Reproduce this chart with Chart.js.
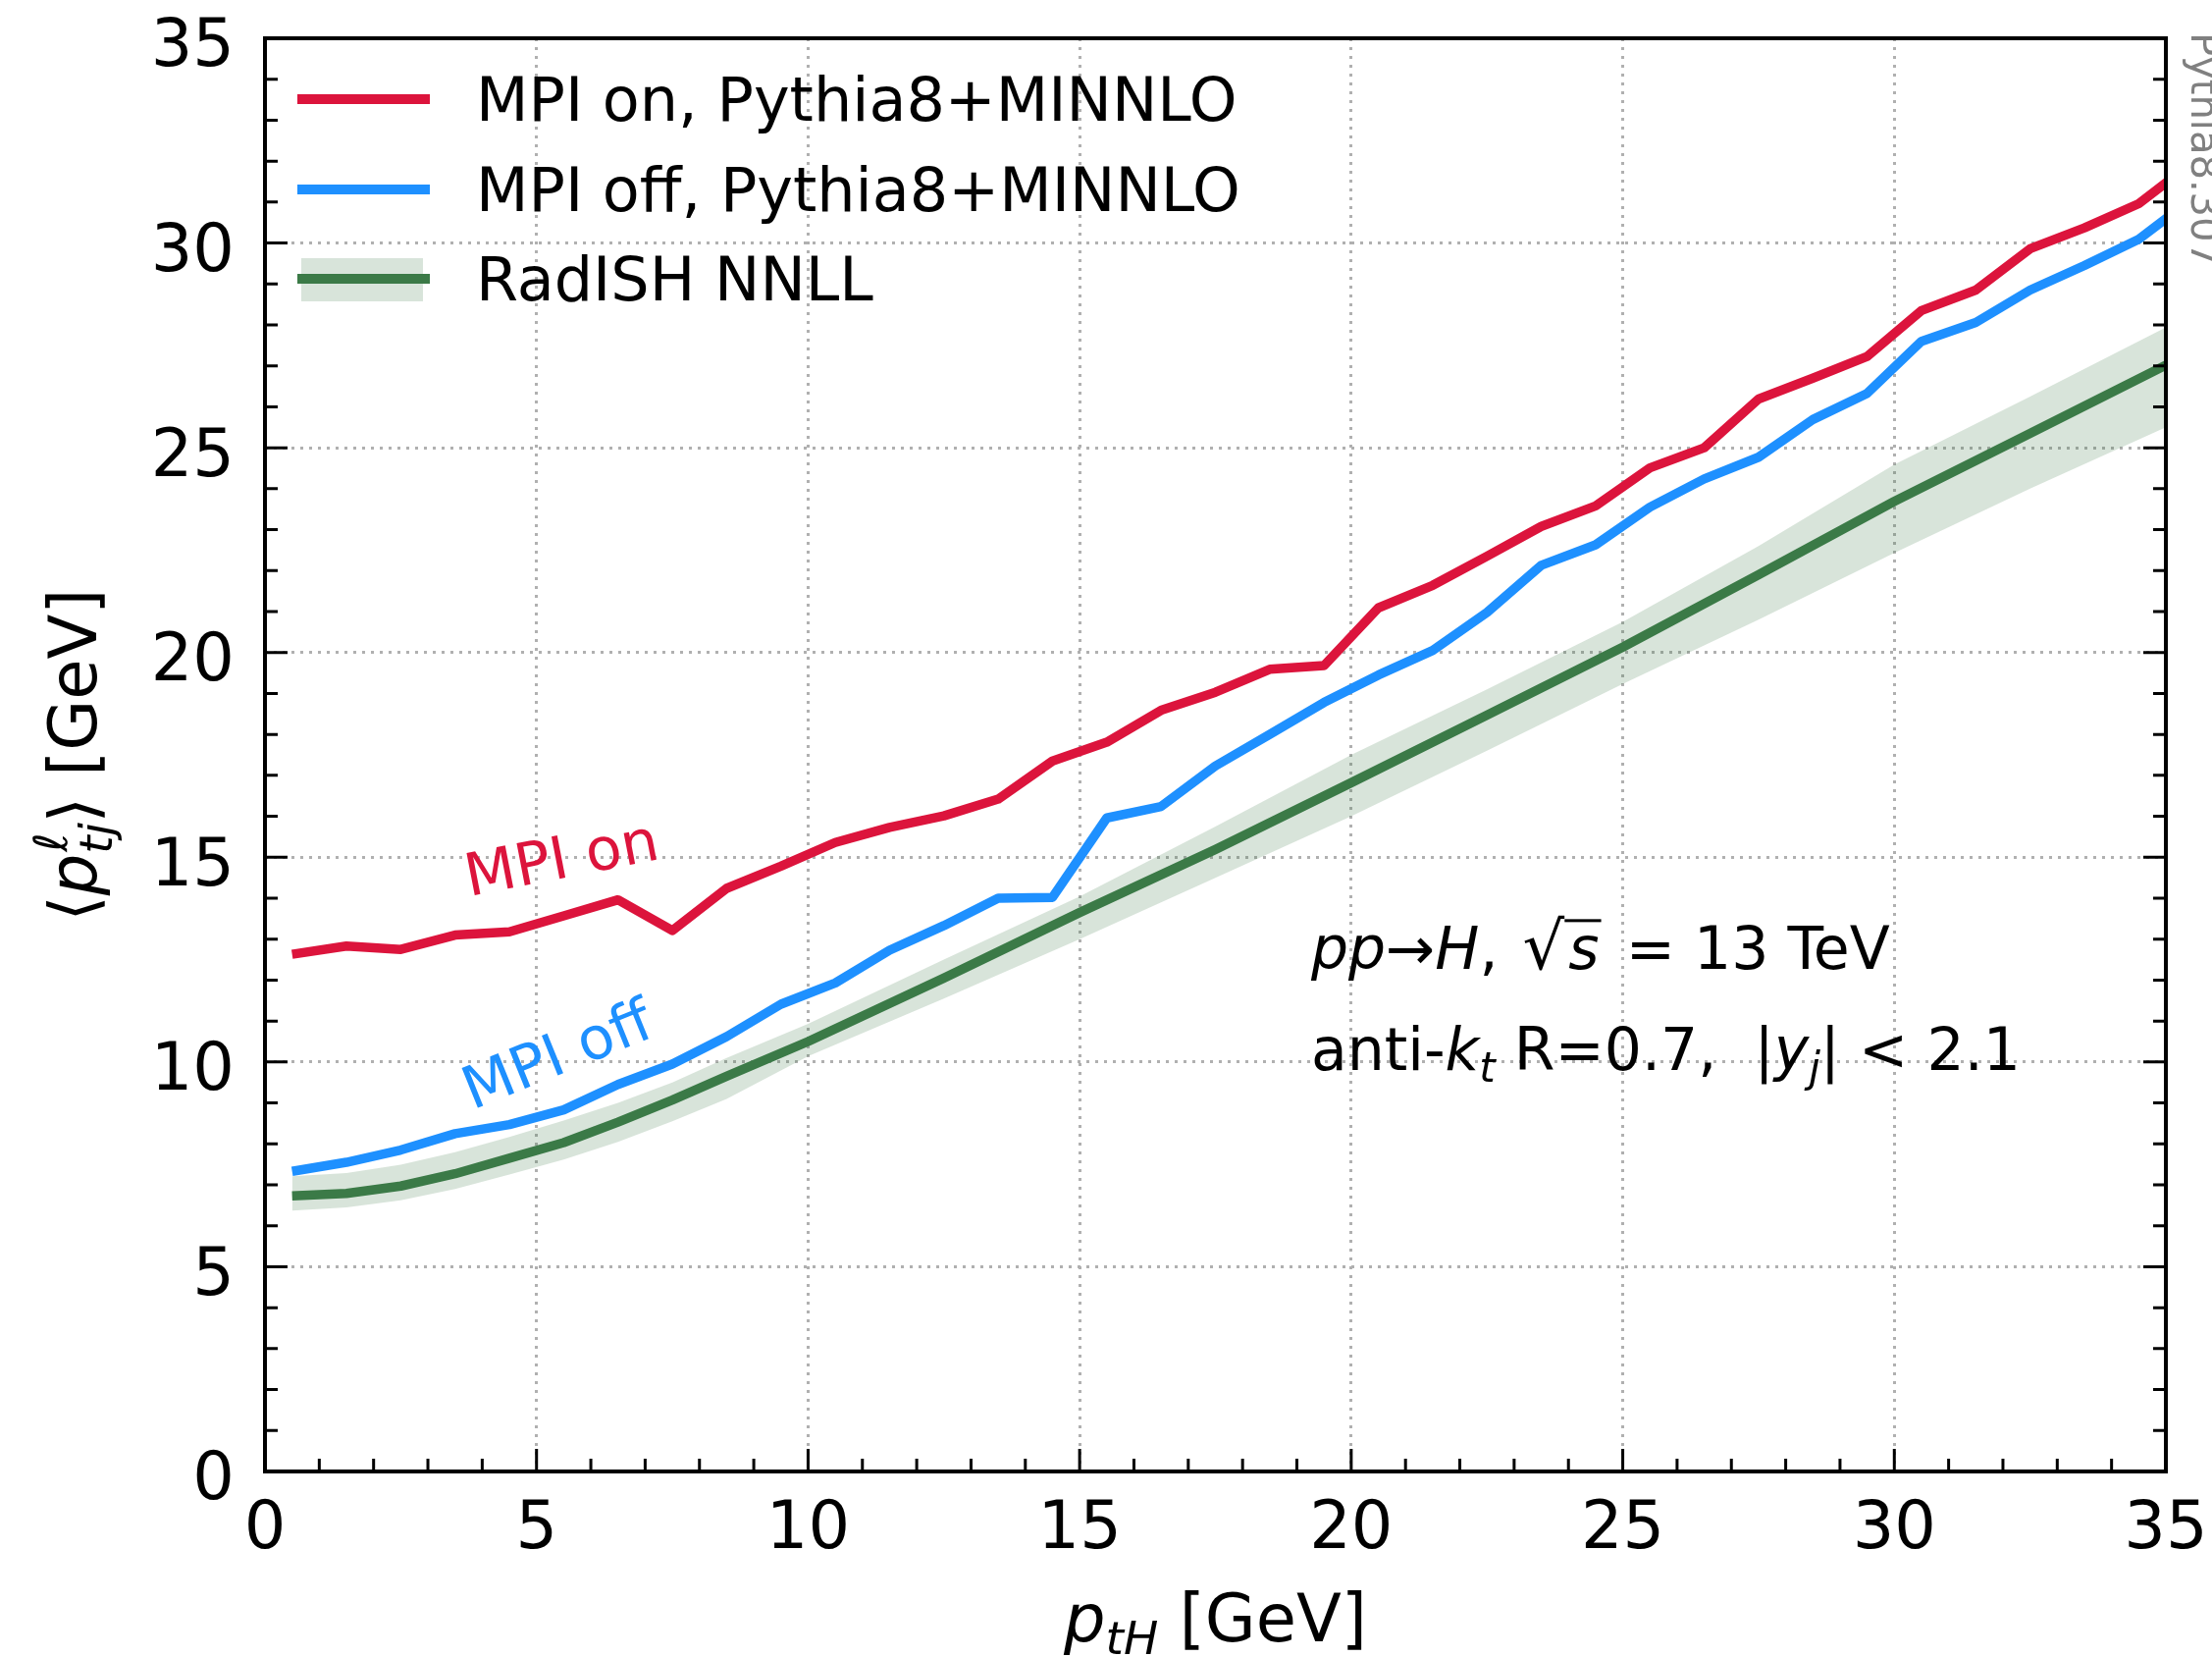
<!DOCTYPE html>
<html>
<head>
<meta charset="utf-8">
<script src="https://cdn.jsdelivr.net/npm/chart.js@4/dist/chart.umd.min.js"></script>
<style>
  html, body { margin: 0; padding: 0; background: #fff; }
  #wrap { width: 2254px; height: 1688px; }
</style>
</head>
<body>
<div id="wrap"><canvas id="chart" width="2254" height="1688"></canvas></div>
<script>
// bin centres of the p_tH histogram (last one sits just past the axis end)
var binCenters = [0.5, 1.5, 2.5, 3.5, 4.5, 5.5, 6.5, 7.5, 8.5, 9.5, 10.5, 11.5, 12.5, 13.5, 14.5, 15.5, 16.5, 17.5,
                  18.5, 19.5, 20.5, 21.5, 22.5, 23.5, 24.5, 25.5, 26.5, 27.5, 28.5, 29.5, 30.5, 31.5, 32.5, 33.5, 34.5, 35.5];

var mpiOn = [12.63, 12.83, 12.75, 13.10, 13.18, 13.57, 13.96, 13.21, 14.24, 14.78, 15.36, 15.73, 16.01, 16.42, 17.35, 17.81, 18.59, 19.03,
             19.59, 19.68, 21.09, 21.64, 22.35, 23.08, 23.58, 24.51, 25.00, 26.19, 26.70, 27.23, 28.35, 28.85, 29.86, 30.37, 30.96, 31.98];

var mpiOff = [7.33, 7.55, 7.85, 8.25, 8.47, 8.83, 9.45, 9.95, 10.62, 11.41, 11.93, 12.73, 13.33, 14.00, 14.02, 15.96, 16.24, 17.23,
              18.00, 18.78, 19.45, 20.05, 20.98, 22.13, 22.63, 23.55, 24.24, 24.77, 25.69, 26.33, 27.60, 28.06, 28.85, 29.45, 30.09, 31.10];

// RadISH NNLL central value and uncertainty band
var radishX = [0.5, 1.5, 2.5, 3.5, 4.5, 5.5, 6.5, 7.5, 8.5, 10, 12.5, 15, 17.5, 20, 22.5, 25, 27.5, 30, 32.5, 35];
var radishMid = [6.73, 6.79, 6.97, 7.27, 7.65, 8.03, 8.53, 9.07, 9.65, 10.50, 12.05, 13.65, 15.19, 16.82, 18.47, 20.13, 21.90, 23.69, 25.35, 27.02];
var radishUp = [7.21, 7.29, 7.49, 7.80, 8.17, 8.57, 9.00, 9.50, 10.10, 10.93, 12.50, 14.04, 15.75, 17.50, 19.10, 20.75, 22.60, 24.59, 26.25, 27.94];
var radishDown = [6.37, 6.45, 6.62, 6.90, 7.25, 7.62, 8.05, 8.55, 9.10, 10.14, 11.55, 13.00, 14.50, 16.00, 17.60, 19.23, 20.80, 22.43, 24.00, 25.50];

var xRange = [0, 35];
var yRange = [0, 35];
var tickStep = 5;

var RED = '#dc143c';
var BLUE = '#1e90ff';
var GREEN = '#3b7a47';
var BAND = 'rgba(59,122,71,0.2)';
var FONT = '"DejaVu Sans"';

function pts(xs, ys) {
    return xs.map(function(x, i) { return {x: x, y: ys[i]}; });
}

function fontStr(size, italic) {
    return (italic ? 'italic ' : '') + size + 'px ' + FONT;
}

// draw a run of text pieces (normal / italic / subscript), returns width
function drawRuns(ctx, x, y, runs, size, dryRun) {
    var cx = x;
    runs.forEach(function(r) {
        var s = (r.sub || r.sup) ? Math.round(size * 0.7) : (r.big ? Math.round(size * r.big) : size);
        ctx.font = fontStr(s, r.it);
        var dy = r.sub ? size * 0.2 : (r.sup ? -size * 0.42 : 0);
        var w = ctx.measureText(r.t).width;
        if (!dryRun) {
            ctx.fillText(r.t, cx, y + dy);
            if (r.over) {
                ctx.fillRect(cx - 4, y - size * 0.84, w + 6, 3);
            }
        }
        cx += w + (r.gap || 0);
    });
    return cx - x;
}

function noPad(s) {
    s.paddingLeft = 0; s.paddingRight = 0; s.paddingTop = 0; s.paddingBottom = 0;
}

var decor = {
    id: 'decor',
    afterDatasetsDraw: function(chart) {
        var ctx = chart.ctx;
        var xs = chart.scales.x, ys = chart.scales.y;
        var a = chart.chartArea;
        ctx.save();

        // frame
        ctx.strokeStyle = '#000';
        ctx.lineWidth = 4;
        ctx.strokeRect(a.left, a.top, a.right - a.left, a.bottom - a.top);

        // inward ticks: bottom, left and right
        ctx.lineWidth = 3;
        ctx.beginPath();
        for (var v = xRange[0]; v <= xRange[1]; v++) {
            var len = v % tickStep === 0 ? 23 : 13;
            var px = xs.getPixelForValue(v);
            ctx.moveTo(px, a.bottom); ctx.lineTo(px, a.bottom - len);
        }
        for (var w = yRange[0]; w <= yRange[1]; w++) {
            var len2 = w % tickStep === 0 ? 23 : 13;
            var py = ys.getPixelForValue(w);
            ctx.moveTo(a.left, py); ctx.lineTo(a.left + len2, py);
            ctx.moveTo(a.right, py); ctx.lineTo(a.right - len2, py);
        }
        ctx.stroke();

        // legend
        var lx0 = 303, lx1 = 438, tx = 485;
        var rows = [101, 193, 284];
        ctx.lineWidth = 10;
        ctx.strokeStyle = RED;
        ctx.beginPath(); ctx.moveTo(lx0, rows[0]); ctx.lineTo(lx1, rows[0]); ctx.stroke();
        ctx.strokeStyle = BLUE;
        ctx.beginPath(); ctx.moveTo(lx0, rows[1]); ctx.lineTo(lx1, rows[1]); ctx.stroke();
        ctx.fillStyle = BAND;
        ctx.fillRect(307, rows[2] - 21, 124, 44);
        ctx.strokeStyle = GREEN;
        ctx.beginPath(); ctx.moveTo(lx0, rows[2]); ctx.lineTo(lx1, rows[2]); ctx.stroke();
        ctx.fillStyle = '#000';
        ctx.font = fontStr(62, false);
        ctx.textBaseline = 'alphabetic';
        ctx.textAlign = 'left';
        ctx.fillText('MPI on, Pythia8+MINNLO', tx, rows[0] + 22);
        ctx.fillText('MPI off, Pythia8+MINNLO', tx, rows[1] + 22);
        ctx.fillText('RadISH NNLL', tx, rows[2] + 22);

        // curve labels
        ctx.save();
        ctx.translate(xs.getPixelForValue(3.76), ys.getPixelForValue(14.05));
        ctx.rotate(-11 * Math.PI / 180);
        ctx.fillStyle = RED;
        ctx.font = fontStr(60, false);
        ctx.fillText('MPI on', 0, 0);
        ctx.restore();

        ctx.save();
        ctx.translate(xs.getPixelForValue(3.82), ys.getPixelForValue(8.83));
        ctx.rotate(-22 * Math.PI / 180);
        ctx.fillStyle = BLUE;
        ctx.font = fontStr(60, false);
        ctx.fillText('MPI off', 0, 0);
        ctx.restore();

        // process info
        ctx.fillStyle = '#000';
        var ax = xs.getPixelForValue(19.26);
        drawRuns(ctx, ax, ys.getPixelForValue(12.28), [
            {t: 'pp', it: true}, {t: '\u2192'}, {t: 'H', it: true}, {t: ', ', gap: 6},
            {t: '\u221A', big: 1.12, gap: 4}, {t: 's', it: true, over: true, gap: 8}, {t: ' = 13 TeV'}
        ], 60);
        drawRuns(ctx, ax, ys.getPixelForValue(9.81), [
            {t: 'anti-'}, {t: 'k', it: true}, {t: 't', it: true, sub: true}, {t: ' R=0.7,  |'},
            {t: 'y', it: true}, {t: 'j', it: true, sub: true}, {t: '| < 2.1'}
        ], 60);

        // x axis title
        var xRuns = [{t: 'p', it: true}, {t: 'tH', it: true, sub: true}, {t: ' [GeV]'}];
        var xw = drawRuns(ctx, 0, 0, xRuns, 67, true);
        drawRuns(ctx, (a.left + a.right) / 2 - xw / 2, 1672, xRuns, 67);

        // y axis title, rotated, with stacked super/subscript
        ctx.save();
        ctx.translate(98, (a.top + a.bottom) / 2);
        ctx.rotate(-Math.PI / 2);
        var size = 67, small = 47;
        ctx.font = fontStr(size, false);
        var w1 = ctx.measureText('\u27E8').width;
        ctx.font = fontStr(size, true);
        var w2 = ctx.measureText('p').width;
        ctx.font = fontStr(small, true);
        var w3 = Math.max(ctx.measureText('\u2113').width, ctx.measureText('tj').width);
        ctx.font = fontStr(size, false);
        var w4 = ctx.measureText('\u27E9 [GeV]').width;
        var total = w1 + w2 + w3 + w4;
        var cx = -total / 2;
        ctx.font = fontStr(size, false);
        ctx.fillText('\u27E8', cx, 0); cx += w1;
        ctx.font = fontStr(size, true);
        ctx.fillText('p', cx, 0); cx += w2;
        ctx.font = fontStr(small, true);
        ctx.fillText('\u2113', cx + 2, -30);
        ctx.fillText('tj', cx, 16);
        cx += w3;
        ctx.font = fontStr(size, false);
        ctx.fillText('\u27E9 [GeV]', cx, 0);
        ctx.restore();

        // generator tag on the right margin
        ctx.save();
        ctx.translate(2233, 33);
        ctx.rotate(Math.PI / 2);
        ctx.fillStyle = '#808080';
        ctx.font = fontStr(40, false);
        ctx.fillText('Pythia8.307', 0, 0);
        ctx.restore();

        ctx.restore();
    }
};

var tickFont = {family: 'DejaVu Sans', size: 67, lineHeight: 1};

var config = {
    type: 'line',
    data: {
        datasets: [{
            label: 'MPI on, Pythia8+MINNLO',
            data: pts(binCenters, mpiOn),
            borderColor: RED,
            borderWidth: 9.5,
            pointRadius: 0,
            tension: 0,
            fill: false,
            clip: 0,
            order: 1
        }, {
            label: 'MPI off, Pythia8+MINNLO',
            data: pts(binCenters, mpiOff),
            borderColor: BLUE,
            borderWidth: 9.5,
            pointRadius: 0,
            tension: 0,
            fill: false,
            clip: 0,
            order: 2
        }, {
            label: 'RadISH NNLL',
            data: pts(radishX, radishMid),
            borderColor: GREEN,
            borderWidth: 9.5,
            pointRadius: 0,
            tension: 0,
            fill: false,
            clip: 0,
            order: 3
        }, {
            label: 'band up',
            data: pts(radishX, radishUp),
            borderWidth: 0,
            borderColor: 'rgba(0,0,0,0)',
            backgroundColor: BAND,
            pointRadius: 0,
            tension: 0,
            fill: '+1',
            clip: 0,
            order: 4
        }, {
            label: 'band down',
            data: pts(radishX, radishDown),
            borderWidth: 0,
            borderColor: 'rgba(0,0,0,0)',
            pointRadius: 0,
            tension: 0,
            fill: false,
            clip: 0,
            order: 5
        }]
    },
    options: {
        responsive: false,
        animation: false,
        devicePixelRatio: 1,
        layout: {padding: {top: 39, right: 47, left: 0, bottom: 0}},
        plugins: {
            legend: {display: false},
            tooltip: {enabled: false}
        },
        elements: {line: {borderJoinStyle: 'round', borderCapStyle: 'butt'}},
        scales: {
            x: {
                type: 'linear',
                min: xRange[0],
                max: xRange[1],
                ticks: {stepSize: tickStep, color: '#000', font: tickFont, padding: 27, maxRotation: 0, autoSkip: false},
                grid: {color: '#b0b0b0', lineWidth: 3, drawTicks: false, borderDash: [3, 6]},
                border: {display: false, dash: [3, 6]},
                afterFit: function(s) { s.height = 189; noPad(s); }
            },
            y: {
                type: 'linear',
                min: yRange[0],
                max: yRange[1],
                ticks: {stepSize: tickStep, color: '#000', font: tickFont, padding: 31, labelOffset: 11, autoSkip: false},
                grid: {color: '#b0b0b0', lineWidth: 3, drawTicks: false, borderDash: [3, 6]},
                border: {display: false, dash: [3, 6]},
                afterFit: function(s) { s.width = 270; noPad(s); }
            }
        }
    },
    plugins: [decor]
};

new Chart(document.getElementById('chart').getContext('2d'), config);
</script>
</body>
</html>
